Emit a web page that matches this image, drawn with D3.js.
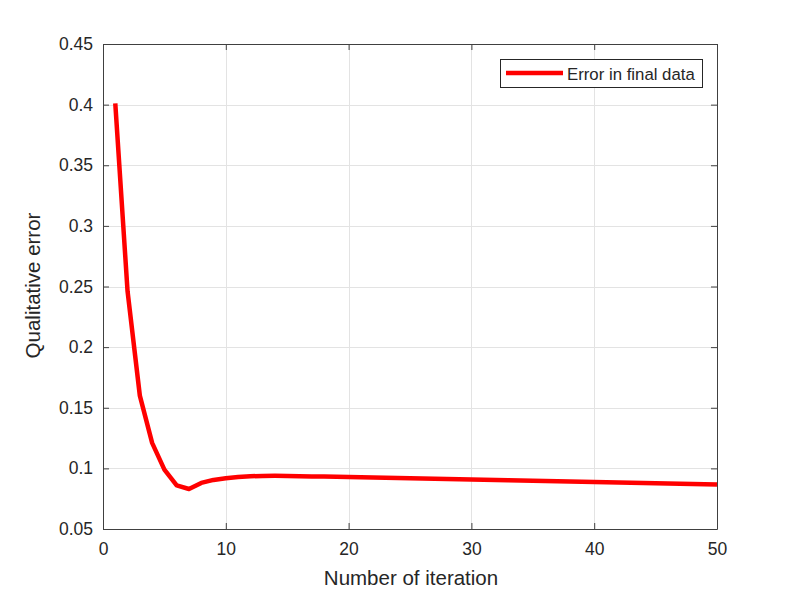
<!DOCTYPE html>
<html>
<head>
<meta charset="utf-8">
<script src="https://cdn.jsdelivr.net/npm/d3@7"></script>
<style>
  body { margin: 0; background: #fff; }
  text { font-family: "Liberation Sans", Arial, sans-serif; fill: #262626; }
</style>
</head>
<body>
<div id="chart"></div>
<script>
// iteration number and error values
var iterations = d3.range(1, 51);
var errorValues = [
  0.401, 0.246, 0.160, 0.121, 0.099, 0.086, 0.083, 0.088, 0.0905, 0.0918,
  0.0928, 0.0935, 0.0938, 0.0939, 0.0938, 0.0936, 0.0934, 0.0932, 0.0930, 0.0928,
  0.0926, 0.0924, 0.0922, 0.0920, 0.0918, 0.0916, 0.0914, 0.0912, 0.0910, 0.0908,
  0.0906, 0.0904, 0.0902, 0.0900, 0.0898, 0.0896, 0.0894, 0.0892, 0.0890, 0.0888,
  0.0886, 0.0884, 0.0882, 0.0880, 0.0878, 0.0876, 0.0874, 0.0872, 0.0870, 0.0868
];
var xTicks = [0, 10, 20, 30, 40, 50];
var yTicks = [0.05, 0.1, 0.15, 0.2, 0.25, 0.3, 0.35, 0.4, 0.45];
var seriesName = 'Error in final data';

var data = iterations.map((it, i) => ({x: it, y: errorValues[i]}));

var margin = {top: 44, right: 76, bottom: 66, left: 103},
  width = 793 - margin.left - margin.right,
  height = 595 - margin.top - margin.bottom;

var svg = d3.select('#chart')
  .append('svg')
  .attr('width', 793)
  .attr('height', 595)
  .append('g')
  .attr('transform', 'translate(' + margin.left + ',' + margin.top + ')');

var x = d3.scaleLinear().domain([0, 50]).range([0, width]);
var y = d3.scaleLinear().domain([0.05, 0.45]).range([height, 0]);

// grid
svg.append('g').selectAll('line.gx')
  .data(xTicks.slice(1, -1))
  .enter().append('line')
  .attr('x1', d => Math.round(x(d)) + 0.5).attr('x2', d => Math.round(x(d)) + 0.5)
  .attr('y1', 0).attr('y2', height)
  .style('stroke', '#e3e3e3');
svg.append('g').selectAll('line.gy')
  .data(yTicks.slice(1, -1))
  .enter().append('line')
  .attr('y1', d => Math.round(y(d)) + 0.5).attr('y2', d => Math.round(y(d)) + 0.5)
  .attr('x1', 0).attr('x2', width)
  .style('stroke', '#e3e3e3');

// data line
svg.append('path')
  .datum(data)
  .attr('d', d3.line().x(d => x(d.x)).y(d => y(d.y)))
  .style('fill', 'none')
  .style('stroke', '#ff0000')
  .style('stroke-width', 4.5)
  .style('stroke-linejoin', 'round');

// axes, ticks inward, on all four sides
var tk = 6;
var axisColor = '#404040';
svg.append('g').attr('transform', 'translate(0,' + height + ')')
  .call(d3.axisBottom(x).tickValues(xTicks).tickSizeInner(-tk).tickSizeOuter(0).tickPadding(14));
svg.append('g')
  .call(d3.axisTop(x).tickValues(xTicks).tickSizeInner(-tk).tickSizeOuter(0).tickFormat(''));
svg.append('g')
  .call(d3.axisLeft(y).tickValues(yTicks).tickSizeInner(-tk).tickSizeOuter(0).tickPadding(10).tickFormat(d3.format('')));
svg.append('g').attr('transform', 'translate(' + width + ',0)')
  .call(d3.axisRight(y).tickValues(yTicks).tickSizeInner(-tk).tickSizeOuter(0).tickFormat(''));

svg.selectAll('.domain, .tick line').style('stroke', axisColor);
svg.selectAll('.tick text')
  .style('font-size', '17.5px')
  .style('font-family', '"Liberation Sans", Arial, sans-serif')
  .style('fill', '#262626');

// labels
svg.append('text')
  .attr('text-anchor', 'middle')
  .attr('x', width / 2 + 1)
  .attr('y', height + 56)
  .style('font-size', '20.5px')
  .text('Number of iteration');

svg.append('text')
  .attr('text-anchor', 'middle')
  .attr('transform', 'rotate(-90)')
  .attr('x', -height / 2 + 1)
  .attr('y', -63)
  .style('font-size', '20.5px')
  .text('Qualitative error');

// legend
var lg = svg.append('g').attr('transform', 'translate(' + (500 - margin.left) + ',' + (59 - margin.top) + ')');
lg.append('rect')
  .attr('x', 0.5).attr('y', 0.5)
  .attr('width', 202).attr('height', 28)
  .style('fill', '#fff')
  .style('stroke', '#262626');
lg.append('line')
  .attr('x1', 6).attr('x2', 63)
  .attr('y1', 14).attr('y2', 14)
  .style('stroke', '#ff0000')
  .style('stroke-width', 4.5);
lg.append('text')
  .attr('x', 67)
  .attr('y', 20.5)
  .style('font-size', '16.8px')
  .text(seriesName);
</script>
</body>
</html>
